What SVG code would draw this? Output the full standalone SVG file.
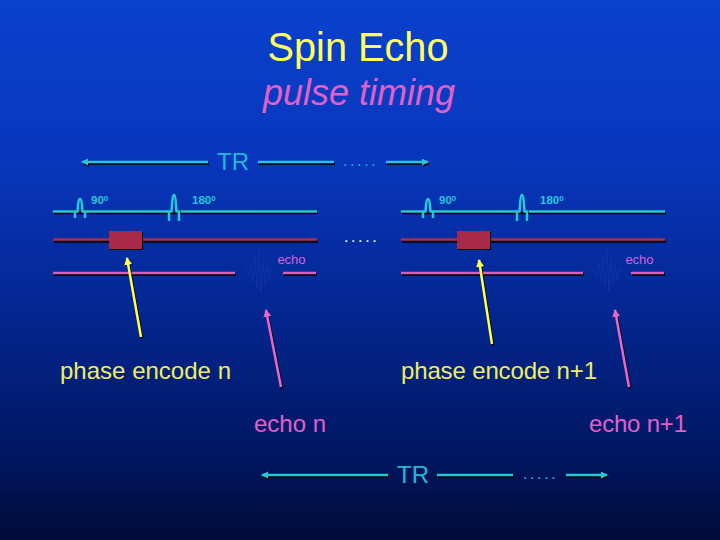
<svg xmlns="http://www.w3.org/2000/svg" xmlns:xlink="http://www.w3.org/1999/xlink" width="720" height="540" viewBox="0 0 720 540">
<defs>
<linearGradient id="bg" x1="0" y1="0" x2="0" y2="1">
<stop offset="0" stop-color="#0a42cc"/>
<stop offset="0.3" stop-color="#0836bc"/>
<stop offset="0.6" stop-color="#03258c"/>
<stop offset="0.85" stop-color="#011660"/>
<stop offset="1" stop-color="#000c38"/>
</linearGradient>
<g id="seq">
<g fill="none" stroke-width="2.500">
<g stroke="#000" transform="translate(1,1.500)">
<path d="M53 211.500H317"/><path d="M53 240H317"/><path d="M53 273H235M283 273H316"/>
</g>
<path class="cy" d="M53 211.500H74M86 211.500H168M181 211.500H317"/>
<path class="cy" d="M75 218V211.500H77.500C78 205 78.500 199 80 199S82 205 82.500 211.500H85V218"/>
<path class="cy" d="M169 221V211.500H171.500C172 204 172.500 195 174 195S176 204 176.500 211.500H179V221"/>
<path stroke="#b02c54" d="M53 239.500H317"/>
<path stroke="#d860b8" d="M53 273H235M283 273H316"/>
<path stroke="#0e34a4" stroke-width="1" d="M244 272L247 268L249 277L251 263L253 282L255 256L257 288L259 248L261 292L263 258L265 284L267 264L269 280L271 268L274 273"/>
</g>
<rect x="110" y="232" width="33" height="18" fill="#000"/>
<rect x="109" y="231" width="33" height="18" fill="#a82a48"/>
<text class="deg" x="91" y="204">90<tspan font-size="8" dy="-3">0</tspan></text>
<text class="deg" x="192" y="204">180<tspan font-size="8" dy="-3">0</tspan></text>
<text x="291.500" y="264" text-anchor="middle" class="ec">echo</text>
</g>
<marker id="ac" markerWidth="8" markerHeight="8" refX="6" refY="3.500" orient="auto" markerUnits="userSpaceOnUse"><path d="M0 0L7 3.500L0 7Z" fill="#24c8d8"/></marker>
<marker id="ak" markerWidth="8" markerHeight="8" refX="6" refY="3.500" orient="auto" markerUnits="userSpaceOnUse"><path d="M0 0L7 3.500L0 7Z" fill="#000"/></marker>
<marker id="ay" markerWidth="9" markerHeight="9" refX="7" refY="4" orient="auto" markerUnits="userSpaceOnUse"><path d="M0 0L8 4L0 8Z" fill="#ffff50"/></marker>
<marker id="ap" markerWidth="9" markerHeight="9" refX="7" refY="4" orient="auto" markerUnits="userSpaceOnUse"><path d="M0 0L8 4L0 8Z" fill="#e868c8"/></marker>
</defs>
<style>
text{font-family:"Liberation Sans",Arial,sans-serif}
.cy{stroke:#24c8d8}
.deg{font-size:11.500px;font-weight:bold;fill:#24c8d8}
.ec{font-size:13px;fill:#d860d8}
.tr{font-size:24px;fill:#24b8d8}
.ye{font-size:24px;fill:#eeee60}
.pk{font-size:24px;fill:#e060c8}
.dots{font-size:16px;letter-spacing:2.600px}
.k{stroke:#000;stroke-width:2.500;fill:none}
.c{stroke:#24c8d8;stroke-width:2.500;fill:none}
.y{stroke:#ffff50;stroke-width:2.500;fill:none}
.p{stroke:#e868c8;stroke-width:2.500;fill:none}
</style>
<rect id="background" width="720" height="540" fill="url(#bg)"/>
<g id="title">
<text x="358" y="61" text-anchor="middle" font-size="40" fill="#ffff60" textLength="181" lengthAdjust="spacingAndGlyphs">Spin Echo</text>
<text x="359" y="105" text-anchor="middle" font-size="36" font-style="italic" fill="#e060c8">pulse timing</text>
</g>
<g id="sequence-1"><use xlink:href="#seq" href="#seq"/></g>
<g id="sequence-2"><use xlink:href="#seq" href="#seq" x="348"/></g>
<g id="connectors">
<g class="k" transform="translate(1,1.500)">
<path d="M208 162H82" marker-end="url(#ak)"/><path d="M258 162H334"/><path d="M386 162H428" marker-end="url(#ak)"/>
<path d="M388 475H262" marker-end="url(#ak)"/><path d="M437 475H513"/><path d="M566 475H607" marker-end="url(#ak)"/>
<path d="M141 337L127 258"/><path d="M281 387L266 310"/><path d="M492 344L479 260"/><path d="M629 387L615 310"/>
</g>
<path class="c" d="M208 162H82" marker-end="url(#ac)"/>
<path class="c" d="M258 162H334"/>
<path class="c" d="M386 162H428" marker-end="url(#ac)"/>
<path class="c" d="M388 475H262" marker-end="url(#ac)"/>
<path class="c" d="M437 475H513"/>
<path class="c" d="M566 475H607" marker-end="url(#ac)"/>
<path class="y" d="M141 337L127 258" marker-end="url(#ay)"/>
<path class="p" d="M281 387L266 310" marker-end="url(#ap)"/>
<path class="y" d="M492 344L479 260" marker-end="url(#ay)"/>
<path class="p" d="M629 387L615 310" marker-end="url(#ap)"/>
</g>
<g id="labels">
<text class="tr" x="217" y="170">TR</text>
<text class="dots" x="343" y="166" fill="#24b8d8">.....</text>
<text class="dots" x="344" y="242" fill="#ffffff">.....</text>
<text class="ye" x="60" y="379" textLength="171">phase encode n</text>
<text class="ye" x="401" y="379" textLength="196">phase encode n+1</text>
<text class="pk" x="254" y="432">echo n</text>
<text class="pk" x="589" y="432" textLength="98">echo n+1</text>
<text class="tr" x="397" y="483">TR</text>
<text class="dots" x="523" y="479" fill="#24b8d8">.....</text>
</g>
</svg>
